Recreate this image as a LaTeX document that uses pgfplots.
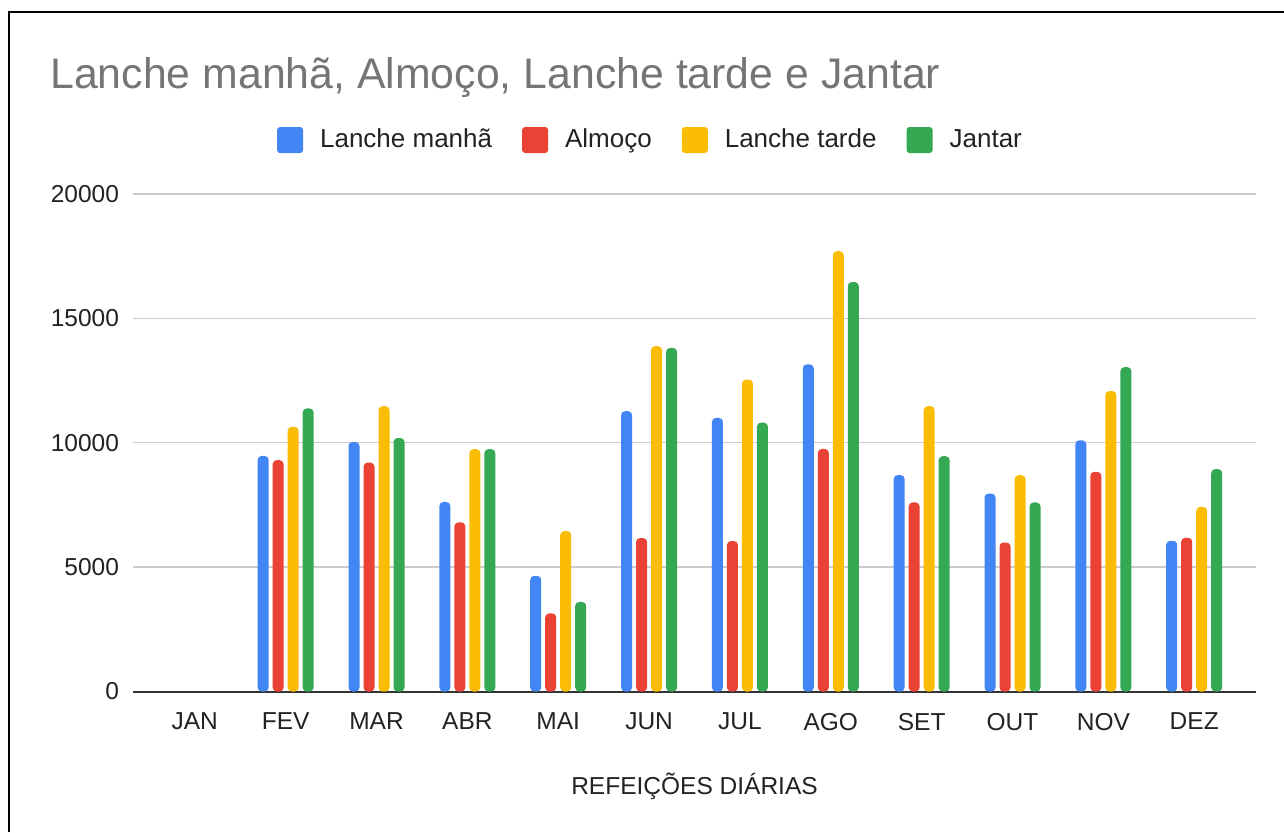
\documentclass[border=0pt]{standalone}
\usepackage{fontspec}
\setmainfont{Liberation Sans}
\usepackage{pgfplots}
\usepackage{pgfplotstable}
\pgfplotsset{compat=1.18}
\definecolor{gblue}{HTML}{4285F4}
\definecolor{gred}{HTML}{EA4335}
\definecolor{gyellow}{HTML}{FBBC04}
\definecolor{ggreen}{HTML}{34A853}
\definecolor{titlegray}{HTML}{757575}
\definecolor{txt}{HTML}{222222}
\definecolor{gridc}{HTML}{CCCCCC}
\definecolor{zeroc}{HTML}{333333}
\pgfplotstableread{
x LM AL LT JA
1 9470 9300 10640 11380
2 10030 9200 11470 10190
3 7620 6800 9740 9740
4 4650 3140 6450 3600
5 11270 6170 13880 13810
6 11000 6050 12540 10810
7 13150 9750 17700 16460
8 8700 7600 11470 9460
9 7960 5990 8700 7600
10 10100 8830 12080 13040
11 6060 6180 7420 8940
}\meals
\begin{document}
\begin{tikzpicture}
\useasboundingbox (0,0) rectangle (642pt,416pt);
\draw[line width=1pt, black] (4.5pt,0) -- (4.5pt,410pt) -- (642pt,410pt);
\node[anchor=base west, text=titlegray, font=\fontsize{21.4}{25}\selectfont, inner sep=0pt] at (25pt,371.5pt) {Lanche manhã, Almoço, Lanche tarde e Jantar};
\begin{axis}[
  at={(66.5pt,70.25pt)}, anchor=south west,
  scale only axis, width=561.5pt, height=248.75pt,
  xmin=-0.68, xmax=11.68, ymin=0, ymax=20000,
  ybar, bar width=5.5pt,
  axis line style={draw=none},
  tick style={draw=none},
  xtick={0,...,11},
  xticklabels={JAN,FEV,MAR,ABR,MAI,JUN,JUL,AGO,SET,OUT,NOV,DEZ},
  ytick={0,5000,10000,15000,20000},
  ymajorgrids, major grid style={color=gridc, line width=0.7pt},
  extra y ticks={0}, extra y tick labels={},
  extra y tick style={grid=major, major grid style={color=zeroc, line width=1pt}},
  /pgf/number format/assume math mode=true,
  /pgf/number format/set thousands separator={},
  scaled y ticks=false,
  ticklabel style={font=\fontsize{12.25}{14}\selectfont, text=txt},
  yticklabel style={xshift=-3.5pt},
  xticklabel style={yshift=-3pt},
  xlabel={REFEIÇÕES DIÁRIAS},
  xlabel style={at={(axis description cs:0.5,-0.208)}, anchor=base, font=\fontsize{12.25}{14}\selectfont, text=txt},
  legend columns=4,
  legend style={at={(0.4617,1.1085)}, anchor=center, draw=none, fill=none,
    font=\fontsize{13}{15}\selectfont, text=txt,
    /tikz/every odd column/.append style={column sep=6.5pt},
    /tikz/every even column/.append style={column sep=13pt}},
  legend image code/.code={\fill[#1, draw=none, rounded corners=1.5pt] (0pt,-6.5pt) rectangle (13pt,6.5pt);},
]
\addplot+[bar shift=-11.25pt, fill=gblue, draw=none, rounded corners=2pt] table[x=x,y=LM]{\meals};
\addplot+[bar shift=-3.75pt, fill=gred, draw=none, rounded corners=2pt] table[x=x,y=AL]{\meals};
\addplot+[bar shift=3.75pt, fill=gyellow, draw=none, rounded corners=2pt] table[x=x,y=LT]{\meals};
\addplot+[bar shift=11.25pt, fill=ggreen, draw=none, rounded corners=2pt] table[x=x,y=JA]{\meals};
\legend{Lanche manhã, Almoço, Lanche tarde, Jantar}
\end{axis}
\end{tikzpicture}
\end{document}
